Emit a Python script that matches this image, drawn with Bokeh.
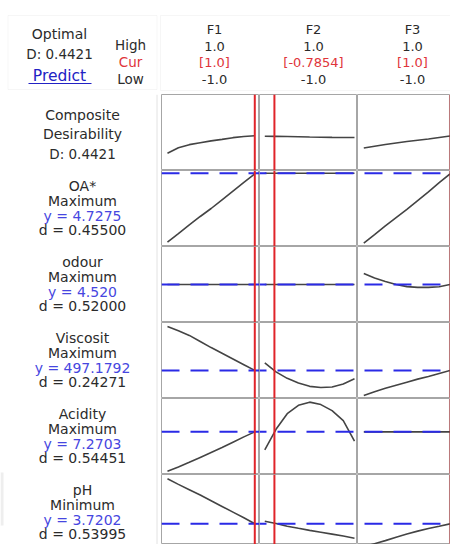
from bokeh.plotting import figure
from bokeh.layouts import row, column
from bokeh.models import Span, BoxAnnotation, Range1d
from bokeh.embed import file_html
from bokeh.resources import INLINE
from bokeh.core.properties import value

# ---------------- data ----------------
factors = ["F1", "F2", "F3"]
high_labels = ["1.0", "1.0", "1.0"]
cur_labels = ["[1.0]", "[-0.7854]", "[1.0]"]
low_labels = ["-1.0", "-1.0", "-1.0"]
cur_settings = [1.0, -0.7854, 1.0]

composite_D = "0.4421"
response_names = ["OA*", "odour", "Viscosit", "Acidity", "pH"]
response_goals = ["Maximum", "Maximum", "Maximum", "Maximum", "Minimum"]
response_y = ["4.7275", "4.520", "497.1792", "7.2703", "3.7202"]
response_d = ["0.45500", "0.52000", "0.24271", "0.54451", "0.53995"]

x_levels = [-1, -0.75, -0.5, -0.25, 0, 0.25, 0.5, 0.75, 1]

# curve heights, as a fraction of each panel's height
composite_F1 = [0.228, 0.300, 0.340, 0.365, 0.390, 0.410, 0.432, 0.447, 0.457]
composite_F2 = [0.451, 0.449, 0.447, 0.445, 0.441, 0.438, 0.436, 0.435, 0.434]
composite_F3 = [0.296, 0.320, 0.342, 0.362, 0.382, 0.398, 0.414, 0.434, 0.454]

oa_F1 = [0.057, 0.170, 0.285, 0.395, 0.500, 0.615, 0.730, 0.845, 0.957]
oa_F2 = [0.964, 0.964, 0.964, 0.964, 0.964, 0.964, 0.964, 0.964, 0.964]
oa_F3 = [0.043, 0.155, 0.270, 0.380, 0.490, 0.605, 0.720, 0.840, 0.955]

odour_F1 = [0.5, 0.5, 0.5, 0.5, 0.5, 0.5, 0.5, 0.5, 0.5]
odour_F2 = [0.5, 0.5, 0.5, 0.5, 0.5, 0.5, 0.5, 0.5, 0.5]
odour_F3 = [0.645, 0.585, 0.540, 0.500, 0.472, 0.462, 0.462, 0.470, 0.500]

visc_F1 = [0.947, 0.890, 0.830, 0.750, 0.670, 0.595, 0.520, 0.445, 0.370]
visc_F2 = [0.470, 0.350, 0.265, 0.205, 0.160, 0.145, 0.152, 0.190, 0.260]
visc_F3 = [0.040, 0.090, 0.135, 0.175, 0.215, 0.255, 0.290, 0.330, 0.368]

acid_F1 = [0.043, 0.100, 0.160, 0.225, 0.290, 0.355, 0.425, 0.495, 0.561]
acid_F2 = [0.325, 0.595, 0.800, 0.910, 0.952, 0.920, 0.840, 0.710, 0.440]
acid_F3 = [0.561, 0.561, 0.561, 0.561, 0.561, 0.561, 0.561, 0.561, 0.561]

ph_F1 = [0.943, 0.870, 0.800, 0.730, 0.655, 0.580, 0.505, 0.430, 0.351]
ph_F2 = [0.386, 0.356, 0.320, 0.292, 0.265, 0.240, 0.215, 0.190, 0.162]
ph_F3 = [0.050, 0.090, 0.130, 0.175, 0.217, 0.255, 0.290, 0.320, 0.351]

current_y = [None, 0.964, 0.5, 0.368, 0.561, 0.351]

curves = [
    [composite_F1, composite_F2, composite_F3],
    [oa_F1, oa_F2, oa_F3],
    [odour_F1, odour_F2, odour_F3],
    [visc_F1, visc_F2, visc_F3],
    [acid_F1, acid_F2, acid_F3],
    [ph_F1, ph_F2, ph_F3],
]

# ---------------- layout / style ----------------
FONT = value("DejaVu Sans")
DARK = "#2b2b2b"
BLUE_TXT = "#4646e0"
RED_TXT = "#e0343a"
GRID_C = "#a6a6a6"
LIGHT = "#e2e2e2"

PAGE_W = 450
HEADER_H = 94
LABEL_W = 161
COL_W = [98, 98, 93]
ROW_H = 76
GRID_H = 450
X_RANGES = [(-1.137, 1.108), (-1.118, 1.067), (-1.146, 1.012)]
COL_OFFSETS = [0, 98, 196]


def base_fig(w, h, xr, yr):
    p = figure(width=w, height=h, x_range=Range1d(*xr), y_range=Range1d(*yr),
               toolbar_location=None, output_backend="svg", min_border=0,
               x_axis_location=None, y_axis_location=None)
    p.grid.visible = False
    p.background_fill_color = "white"
    p.border_fill_color = "white"
    p.outline_line_color = None
    return p


def add_txt(lst, x, y, t, c, s):
    lst[0].append(x); lst[1].append(y); lst[2].append(t); lst[3].append(c); lst[4].append(s)


# header
hdr = base_fig(PAGE_W, HEADER_H, (0, PAGE_W), (HEADER_H, 0))
hdr.add_layout(BoxAnnotation(left=7.5, right=156.5, top=15, bottom=89,
                             fill_color=None, line_color=LIGHT, line_width=1))
hdr.add_layout(BoxAnnotation(left=160, right=460, top=15, bottom=90,
                             fill_color=None, line_color=LIGHT, line_width=1))
H = ([], [], [], [], [])
add_txt(H, 59, 33, "Optimal", DARK, "14px")
add_txt(H, 59, 53, "D: " + composite_D, DARK, "13.5px")
add_txt(H, 59, 75, "Predict", "#2222c4", "15.5px")
add_txt(H, 130, 44, "High", DARK, "13.5px")
add_txt(H, 130, 61.5, "Cur", RED_TXT, "13.5px")
add_txt(H, 130, 78, "Low", DARK, "13.5px")
fx_centers = [214, 313, 412]
for j in range(3):
    add_txt(H, fx_centers[j], 29, factors[j], DARK, "13px")
    add_txt(H, fx_centers[j], 45.5, high_labels[j], DARK, "13px")
    add_txt(H, fx_centers[j], 62, cur_labels[j], RED_TXT, "13px")
    add_txt(H, fx_centers[j], 79, low_labels[j], DARK, "13px")
hdr.text(x=H[0], y=H[1], text=H[2], text_color=H[3], text_font_size=H[4], text_font=FONT,
         text_align="center", text_baseline="middle")
hdr.segment(x0=[28], y0=[83], x1=[91], y1=[83], line_color="#2222c4", line_width=1.2)

# label column
lab = base_fig(LABEL_W, GRID_H, (0, LABEL_W), (HEADER_H + GRID_H, HEADER_H))
lab.add_layout(Span(location=156.5, dimension="height", line_color=LIGHT, line_width=1))
lab.add_layout(BoxAnnotation(left=0, right=3, top=472, bottom=525,
                             fill_color="#d4d4d4", line_color=None))
L = ([], [], [], [], [])
add_txt(L, 82, 114, "Composite", DARK, "14px")
add_txt(L, 82, 133, "Desirability", DARK, "14px")
add_txt(L, 82, 153, "D: " + composite_D, DARK, "13.5px")
block_tops = [170, 246, 322, 398, 474]
line_offs = [15.5, 30.5, 45.5, 59.5]
for i in range(5):
    t0 = block_tops[i]
    add_txt(L, 82, t0 + line_offs[0], response_names[i], DARK, "14px")
    add_txt(L, 82, t0 + line_offs[1], response_goals[i], DARK, "14px")
    add_txt(L, 82, t0 + line_offs[2], "y = " + response_y[i], BLUE_TXT, "14px")
    add_txt(L, 82, t0 + line_offs[3], "d = " + response_d[i], DARK, "14px")
lab.text(x=L[0], y=L[1], text=L[2], text_color=L[3], text_font_size=L[4], text_font=FONT,
         text_align="center", text_baseline="middle")

# panels
cols = []
for j in range(3):
    cells = []
    for k in range(6):
        h = ROW_H if k < 5 else GRID_H - 5 * ROW_H
        p = base_fig(COL_W[j], h, X_RANGES[j], (1 - h / ROW_H, 1))
        p.outline_line_color = GRID_C
        p.outline_line_width = 1
        p.line(x_levels, curves[k][j], line_color="#444444", line_width=1.6)
        if current_y[k] is not None:
            p.add_layout(Span(location=current_y[k], dimension="width",
                              line_color="#2a2ae6", line_width=2,
                              line_dash="18 11", line_dash_offset=COL_OFFSETS[j]))
        p.add_layout(Span(location=cur_settings[j], dimension="height",
                          line_color="#e0242a", line_width=2,
                          line_alpha=1.0 if j < 2 else 0.35))
        cells.append(p)
    cols.append(column(*cells))

layout = column(hdr, row(lab, *cols))

open("out.html", "w").write(file_html(layout, INLINE, title="Response Optimizer"))
